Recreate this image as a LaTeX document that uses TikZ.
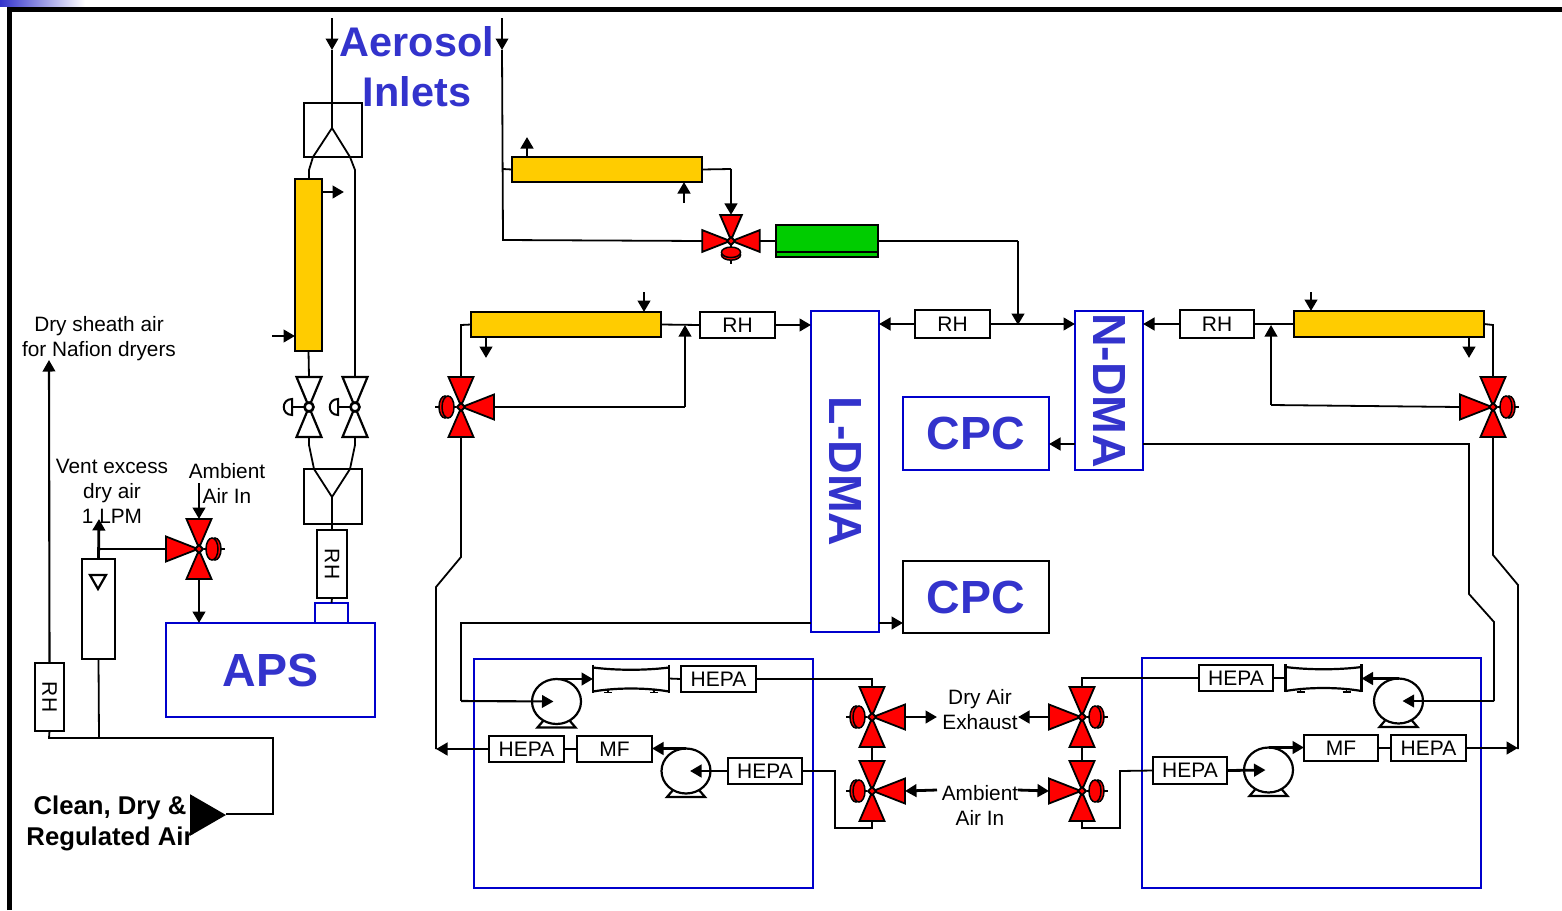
\documentclass[tikz,border=0pt]{standalone}
\usepackage{fontspec}
\setmainfont{Liberation Sans}
\usetikzlibrary{arrows.meta,shapes.geometric,calc}
\definecolor{ttl}{RGB}{51,51,204}
\definecolor{bbox}{RGB}{0,0,204}
\definecolor{yell}{RGB}{255,204,0}
\definecolor{grn}{RGB}{0,204,0}
\tikzset{
  pipe/.style={line width=1.8pt,line join=miter},
  flow/.style={line width=2.8pt,-{Triangle[length=11.5pt,width=12.5pt]}},
  flowthin/.style={line width=2.1pt,-{Triangle[length=11.5pt,width=12.5pt]}},
  sq/.style={draw,line width=2.2pt,fill=white,inner sep=0pt,outer sep=0pt,font=\fontsize{21}{25}\selectfont},
  dry/.style={sq,fill=yell},
  bluebox/.style={draw=bbox,line width=2.6pt,fill=none,inner sep=0pt,outer sep=0pt,text=ttl,font=\fontsize{46.5}{50}\selectfont\bfseries},
  lab/.style={align=center,inner sep=0pt,font=\fontsize{20.8}{25}\selectfont},
  vtri/.style={draw,fill=red,line width=1.8pt,line join=miter},
}
\newcommand\lo[1]{\raisebox{-1pt}{#1}}
% box from corners: style, name, x1, y1, x2, y2, text
\newcommand\rbox[7][]{%
  \pgfmathsetmacro\bw{#5-#3}\pgfmathsetmacro\bh{#6-#4}%
  \pgfmathsetmacro\bx{(#5+#3)/2}\pgfmathsetmacro\by{(#6+#4)/2}%
  \node[#1,minimum width=\bw pt,minimum height=\bh pt] (#2) at (\bx,\by) {#7};}
% three-way valve: name x y knob-angle scale
\newcommand\valve[5]{%
  \begin{scope}[shift={(#2,#3)}]
    \coordinate (#1) at (0,0);
    \coordinate (#1-n) at (0,{-30*#5});
    \coordinate (#1-s) at (0,{30*#5});
    \coordinate (#1-e) at ({33*#5},0);
    \coordinate (#1-w) at ({-33*#5},0);
    \begin{scope}[scale=#5]
      \begin{scope}[rotate=#4]
        \draw[line width=1.2pt] (5,0) -- (26,0);
        \draw[vtri,line width=1.5pt] (16,0) ellipse (6 and 11);
        \draw[vtri,line width=1.5pt] (13,0) ellipse (6 and 11);
      \end{scope}
      \ifnum#4=0\else\draw[vtri] (1,0) -- (33,-12.5) -- (33,12.5) -- cycle;\fi
      \ifnum#4=180\else\draw[vtri] (-1,0) -- (-33,-12.5) -- (-33,12.5) -- cycle;\fi
      \ifnum#4=90\else\draw[vtri] (0,-1) -- (-12.5,-30) -- (12.5,-30) -- cycle;\fi
      \ifnum#4=270\else\draw[vtri] (0,1) -- (-12.5,30) -- (12.5,30) -- cycle;\fi
    \end{scope}
    \draw[vtri] (-4,0) -- (0,-4) -- (4,0) -- (0,4) -- cycle;
  \end{scope}}
% manual valve: name x y
\newcommand\mvalve[3]{%
  \begin{scope}[shift={(#2,#3)}]
    \coordinate (#1-n) at (0,-30);
    \coordinate (#1-s) at (0,30);
    \draw[line width=2.2pt,line join=miter,fill=white] (0,0) -- (-12.5,-30) -- (12.5,-30) -- cycle;
    \draw[line width=2.2pt,line join=miter,fill=white] (0,0) -- (-12.5,30) -- (12.5,30) -- cycle;
    \draw[line width=1.8pt] (-5,0) -- (-17,0);
    \draw[line width=2pt,fill=white] (-17,-8) .. controls (-28,-8) and (-28,8) .. (-17,8) -- cycle;
    \draw[line width=2.6pt,fill=white] (0,0) circle (4.5);
  \end{scope}}
% pump: name x y
\newcommand\pump[3]{%
  \draw[line width=2.2pt,fill=white] (#2-13,#3+19) -- (#2-19,#3+26) -- (#2+19,#3+26) -- (#2+13,#3+19);
  \node[ellipse,draw,line width=2.2pt,fill=white,minimum width=49pt,minimum height=45pt,inner sep=0pt,outer sep=0pt] (#1) at (#2,#3) {};}
% filter drum: name x y (centre)
\newcommand\drum[3]{%
  \node[minimum width=76pt,minimum height=27pt,inner sep=0pt,outer sep=0pt] (#1) at (#2,#3) {};
  \begin{scope}[shift={(#2,#3)}]
    \fill[white] (-38,-12) .. controls (-15,-8) and (15,-8) .. (38,-12) -- (38,13) .. controls (15,9) and (-15,9) .. (-38,13) -- cycle;
    \draw[line width=2.2pt] (-38,-14) -- (-38,14);
    \draw[line width=2.2pt] (38,-14) -- (38,14);
    \draw[line width=2.2pt] (-38,-11) .. controls (-15,-8) and (15,-8) .. (38,-11);
    \draw[line width=2.2pt] (-38,13) .. controls (-15,9) and (15,9) .. (38,13);
    \draw[line width=1.8pt] (-23,10) -- (-23,14) (23,10) -- (23,14);
    \draw[line width=1.8pt] (-27,14) -- (-19,14) (19,14) -- (27,14);
  \end{scope}}
\begin{document}
\begin{tikzpicture}[x=1pt,y=-1pt]
\useasboundingbox (0,0) rectangle (1562,910);
% frame
\shade[left color=ttl,right color=white] (0,0) rectangle (85,6.5);
\draw[line width=5pt] (9,910) -- (9,9) -- (1562,9);

\coordinate (inA) at (332,18);
\coordinate (inB) at (502,18);

% --- left column
\rbox[sq,fill=none]{split}{304}{103}{362}{157}{}
\rbox[dry]{dryA}{295}{179}{322}{351}{}
\rbox[sq,fill=none]{merge}{304}{469}{362}{524}{}
\rbox[sq]{rhV}{317}{530}{347}{598}{\rotatebox{-90}{RH}}
\rbox[bluebox]{apsNeck}{315}{603}{348}{623}{}
\rbox[bluebox]{aps}{166}{623}{375}{717}{\lo{APS}}
\mvalve{mvA}{309}{407}
\mvalve{mvB}{355}{407}
\coordinate (tee) at (332,128);
\coordinate (join) at (332,497);
\draw[flowthin] (inA) -- (332,50);
\draw[pipe] (332,50) -- (tee);
\draw[pipe] (tee) -- (313,157) -- (309,170) -- (dryA.north -| 309,179);
\draw[pipe] (tee) -- (350,157) -- (355,170) -- (mvB-n);
\draw[pipe] (dryA.south) -- (mvA-n);
\draw[pipe] (mvA-s) -- (309,445) -- (314,469) -- (join);
\draw[pipe] (mvB-s) -- (355,445) -- (350,469) -- (join);
\draw[pipe] (join) -- (rhV.north);
\draw[pipe] (rhV.south) -- (apsNeck.north);
\coordinate (dryAout) at (344,192);
\coordinate (dryAin) at (272,336);
\draw[flow] (dryA.east |- dryAout) -- (dryAout);
\draw[flow] (dryAin) -- (dryA.west |- dryAin);

% --- far left
\node[lab] (lDry) at (99,339) {Dry sheath air\\for Nafion dryers};
\node[lab] (lVent) at (112,491) {Vent excess\\dry air\\1 LPM};
\node[lab] (lAmbA) at (227,483) {Ambient\\Air In};
\rbox[sq]{rhL}{35}{663}{64}{731}{\rotatebox{-90}{RH}}
\rbox[sq,fill=none]{rota}{82}{559}{115}{659}{}
\draw[line width=2.2pt,line join=miter] (90,575) -- (106,575) -- (98,589) -- cycle;
\valve{vAmb}{199}{549}{0}{1}
\coordinate (ambIn) at (199,483);
\coordinate (ventOut) at (99,519);
\coordinate (dryOut) at (49,360);
\coordinate (busL) at (99,738);
\draw[flow] (ambIn) -- (vAmb-n);
\draw[flow] (vAmb-s) -- (vAmb-s |- aps.north);
\draw[flow] (rota.north) -- (ventOut);
\draw[pipe] (vAmb-w) -- (rota.north |- vAmb-w);
\draw[flowthin] (rhL.north) -- (dryOut);
\draw[pipe] (rota.south) -- (busL);
\node[regular polygon,regular polygon sides=3,shape border rotate=-90,fill=black,inner sep=0pt,outer sep=0pt,minimum size=48pt] (feed) at (202,815) {};
\draw[pipe] (rhL.south) -- (49,738) -- (273,738) -- (273,814) -- (feed.east |- 273,814);
\node[lab,font=\fontsize{25.7}{31}\selectfont\bfseries] (lClean) at (110,823.5) {Clean, Dry \&\\Regulated Air};

% title
\node[align=center,inner sep=0pt,text=ttl,font=\fontsize{41.4}{50}\selectfont\bfseries] (title) at (417,67) {Aerosol\\Inlets};

% --- top dryer branch
\rbox[dry]{dryB}{512}{157}{702}{182}{}
\valve{vTop}{731}{241}{270}{0.87}
\rbox[sq,fill=grn]{green}{776}{225}{878}{257}{}
\draw[line width=1.8pt] (776,252) -- (878,252);
\coordinate (bBend) at (503,240);
\coordinate (bOutA) at (527,137);
\coordinate (bInB) at (684,203);
\coordinate (nJoin) at (1018,325);
\draw[flowthin] (inB) -- (502,50);
\draw[pipe] (502,50) -- (bBend) -- (vTop-w);
\draw[pipe] (503,169) -- (dryB.west);
\draw[flow] (dryB.north -| bOutA) -- (bOutA);
\draw[flow] (bInB) -- (dryB.south -| bInB);
\draw[pipe] (dryB.east) -- (731,169);
\draw[flow] (731,169) -- (vTop-n);
\draw[pipe] (vTop-e) -- (green.west);
\draw[pipe] (green.east) -- (1018,241);
\draw[flow] (1018,241) -- (nJoin);

% --- DMA row
\rbox[dry]{dryC}{471}{312}{661}{337}{}
\rbox[dry]{dryD}{1294}{311}{1484}{337}{}
\rbox[sq]{rh1}{700}{312}{775}{338}{\lo{RH}}
\rbox[sq]{rh2}{915}{310}{990}{338}{\lo{RH}}
\rbox[sq]{rh3}{1180}{310}{1254}{338}{\lo{RH}}
\rbox[bluebox]{ldma}{811}{311}{879}{632}{\rotatebox{-90}{L-DMA}}
\rbox[bluebox]{ndma}{1075}{311}{1143}{470}{\rotatebox{-90}{N-DMA}}
\rbox[bluebox]{cpcA}{903}{397}{1049}{470}{\lo{CPC}}
\rbox[bluebox,draw=black]{cpcB}{903}{561}{1049}{633}{\lo{CPC}}
\valve{vL}{461}{407}{180}{1}
\valve{vR}{1493}{407}{0}{1}
\coordinate (cIn) at (644,292);
\coordinate (cOut) at (486,358);
\coordinate (dIn) at (1311,292);
\coordinate (dOut) at (1469,358);
\draw[flow] (cIn) -- (dryC.north -| cIn);
\draw[flow] (dryC.south -| cOut) -- (cOut);
\draw[flow] (dIn) -- (dryD.north -| dIn);
\draw[flow] (dryD.south -| dOut) -- (dOut);
\draw[pipe] (dryC.east) -- (rh1.west);
\draw[flow] (rh1.east) -- (ldma.west |- rh1.east);
\draw[flow] (rh2.west) -- (ldma.east |- rh2.west);
\draw[flow] (rh2.east) -- (ndma.west |- rh2.east);
\draw[flow] (rh3.west) -- (ndma.east |- rh3.west);
\draw[pipe] (dryD.west) -- (rh3.east);
\draw[pipe] (vL-n) -- (461,325) -- (dryC.west);
\draw[pipe] (vL-e) -- (685,407);
\draw[flowthin] (685,407) -- (685,325);
\draw[pipe] (dryD.east) -- (1493,325) -- (vR-n);
\draw[pipe] (vR-w) -- (1271,405);
\draw[flowthin] (1271,405) -- (1271,325);
\coordinate (ndmaOut) at (1075,444);
\draw[flow] (ndmaOut) -- (cpcA.east |- ndmaOut);
\coordinate (ldmaOut) at (879,623);
\draw[flow] (ldmaOut) -- (cpcB.west |- ldmaOut);

% --- sample/exhaust boxes
\rbox[bluebox]{boxL}{474}{659}{813}{888}{}
\rbox[bluebox]{boxR}{1142}{658}{1481}{888}{}
\pump{pu1}{556.5}{701.5}
\pump{pu2}{686}{771}
\pump{pu3}{1398.5}{701}
\pump{pu4}{1268.5}{770}
\drum{dr1}{631}{678.5}
\drum{dr2}{1323.5}{678}
\rbox[sq]{hA}{681}{666}{756}{692}{\lo{HEPA}}
\rbox[sq]{hB}{489}{736}{564}{762}{\lo{HEPA}}
\rbox[sq]{mfL}{577}{736}{652}{762}{\lo{MF}}
\rbox[sq]{hC}{728}{758}{802}{784}{\lo{HEPA}}
\rbox[sq]{hD}{1199}{665}{1273}{691}{\lo{HEPA}}
\rbox[sq]{hE}{1153}{757}{1227}{784}{\lo{HEPA}}
\rbox[sq]{mfR}{1304}{735}{1378}{761}{\lo{MF}}
\rbox[sq]{hF}{1391}{735}{1466}{761}{\lo{HEPA}}
\valve{vEa}{872}{717}{180}{1}
\valve{vAa}{872}{791}{180}{1}
\valve{vEb}{1082}{717}{0}{1}
\valve{vAb}{1082}{791}{0}{1}
\node[lab] (lExh) at (980,709.5) {Dry Air\\Exhaust};
\node[lab] (lAmbB) at (980,805.5) {Ambient\\Air In};
\draw[pipe] (vEa-s) -- (vAa-n);
\draw[pipe] (vEb-s) -- (vAb-n);
\coordinate (exhL) at (937,717);
\coordinate (exhR) at (1018,717);
\coordinate (ambL) at (937,790);
\coordinate (ambR) at (1018,790);
\draw[flow] (vEa-e) -- (exhL);
\draw[flow] (vEb-w) -- (exhR);
\draw[flow] (ambL) -- (vAa-e);
\draw[flow] (ambR) -- (vAb-w);
% left box wiring
\draw[pipe] (ldma.west |- ldmaOut) -- (461,623) -- (461,701);
\draw[flowthin,shorten >=3pt] (461,701) -- (pu1.center);
\draw[flow] (pu1.north) -- (dr1.west |- pu1.north);
\draw[pipe] (dr1.east) -- (hA.west);
\draw[pipe] (hA.east) -- (872,679) -- (vEa-n);
\draw[pipe] (hB.east) -- (mfL.west);
\draw[flow] (pu2.north) -- (mfL.east |- pu2.north);
\draw[flow,shorten >=4pt] (hC.west) -- (pu2.center);
\draw[pipe] (hC.east) -- (835,771) -- (835,828) -- (872,828) -- (vAa-s);
\draw[pipe] (vL-s) -- (461,557) -- (436,587) -- (436,749);
\draw[flow] (hB.west) -- (436,749);
% right box wiring
\draw[pipe] (hD.west) -- (1082,678) -- (vEb-n);
\draw[pipe] (dr2.west) -- (hD.east);
\draw[flow] (pu3.north) -- (dr2.east |- pu3.north);
\draw[pipe] (ndma.east |- ndmaOut) -- (1469,444) -- (1469,594) -- (1494,622) -- (1494,701);
\draw[flowthin,shorten >=4pt] (1494,701) -- (pu3.center);
\draw[pipe] (vAb-s) -- (1082,828) -- (1120,828) -- (1120,771) -- (hE.west);
\draw[flow,shorten >=3pt] (hE.east) -- (pu4.center);
\draw[flow] (pu4.north) -- (mfR.west |- pu4.north);
\draw[pipe] (mfR.east) -- (hF.west);
\draw[pipe] (vR-s) -- (1493,555) -- (1518,585) -- (1518,749);
\draw[flow] (hF.east) -- (1518,748);
\end{tikzpicture}
\end{document}
